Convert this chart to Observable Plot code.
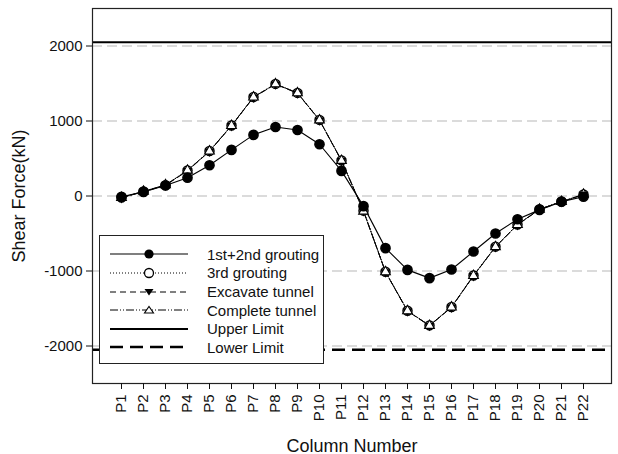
<!DOCTYPE html>
<html>
<head>
<meta charset="utf-8">
<script src="https://cdn.jsdelivr.net/npm/d3@7"></script>
<script src="https://cdn.jsdelivr.net/npm/@observablehq/plot@0.6"></script>
<style>
  body { margin: 0; background: #fff; font-family: "Liberation Sans", Arial, sans-serif; }
  #wrap { position: relative; width: 618px; height: 454px; }
  #legend { position: absolute; left: 99px; top: 235px; width: 223px; height: 127px;
    border: 1px solid #222; background: #fff; box-sizing: content-box; }
  .row { position: absolute; left: 0; height: 18px; display: flex; align-items: center; }
  .row svg { display: block; }
  .row span { font-size: 15px; color: #111; margin-left: 9px; }
</style>
</head>
<body>
<div id="wrap"></div>
<script>
const columns = ["P1","P2","P3","P4","P5","P6","P7","P8","P9","P10","P11","P12","P13","P14","P15","P16","P17","P18","P19","P20","P21","P22"];
const grout12  = [-10, 55, 140, 244, 410, 615, 815, 920, 880, 690, 335, -135, -695, -985, -1095, -980, -740, -500, -310, -185, -75, -10];
const grout3   = [-20, 60, 145, 340, 600, 940, 1320, 1495, 1375, 1015, 475, -195, -1010, -1530, -1725, -1480, -1060, -675, -380, -175, -75, 20];
const excavate = [-25, 58, 142, 335, 595, 935, 1315, 1490, 1370, 1010, 470, -200, -1015, -1535, -1730, -1485, -1065, -680, -385, -180, -78, 18];
const complete = [-22, 62, 148, 342, 598, 938, 1318, 1493, 1373, 1012, 472, -205, -1012, -1532, -1728, -1482, -1062, -678, -382, -178, -76, 22];
const upperLimit = 2050;
const lowerLimit = -2050;
const yTicks = [-2000, -1000, 0, 1000, 2000];
const seriesNames = ["1st+2nd grouting", "3rd grouting", "Excavate tunnel", "Complete tunnel", "Upper Limit", "Lower Limit"];

const toRows = vals => columns.map((c, i) => ({col: c, v: vals[i]}));
const d1 = toRows(grout12), d2 = toRows(grout3), d3 = toRows(excavate), d4 = toRows(complete);

const chart = Plot.plot({
  width: 618,
  height: 454,
  marginLeft: 92,
  marginRight: 7,
  marginTop: 8,
  marginBottom: 71,
  style: {fontFamily: "'Liberation Sans', Arial, sans-serif", fontSize: "15px", color: "#111", background: "#fff"},
  x: {type: "point", domain: columns, padding: 1, label: null},
  y: {domain: [-2500, 2500], label: null},
  marks: [
    Plot.ruleY(yTicks, {stroke: "#cfcfcf", strokeWidth: 1.5, strokeDasharray: "10,5"}),
    Plot.ruleY([upperLimit], {stroke: "#000", strokeWidth: 2}),
    Plot.ruleY([lowerLimit], {stroke: "#000", strokeWidth: 2.4, strokeDasharray: "13,7"}),
    Plot.line(d4, {x: "col", y: "v", stroke: "#000", strokeWidth: 1, strokeDasharray: "8,2,1,2,1,2"}),
    Plot.line(d3, {x: "col", y: "v", stroke: "#000", strokeWidth: 1, strokeDasharray: "6,4"}),
    Plot.line(d2, {x: "col", y: "v", stroke: "#000", strokeWidth: 1, strokeDasharray: "1,2"}),
    Plot.line(d1, {x: "col", y: "v", stroke: "#000", strokeWidth: 1.1}),
    Plot.dot(d2, {x: "col", y: "v", r: 4.5, fill: "#fff", stroke: "#000", strokeWidth: 1.5}),
    Plot.dot(d3, {x: "col", y: "v", symbol: "triangle", rotate: 180, r: 3.6, fill: "#000", stroke: "none"}),
    Plot.dot(d4, {x: "col", y: "v", symbol: "triangle", r: 3.6, fill: "#fff", stroke: "#000", strokeWidth: 1.1}),
    Plot.dot(d1, {x: "col", y: "v", r: 4.6, fill: "#000", stroke: "#000"}),
    Plot.frame({stroke: "#222", strokeWidth: 1.2}),
    Plot.axisY({ticks: yTicks, tickFormat: d => String(d), tickSize: 6, tickPadding: 4, fontSize: 15, label: null}),
    Plot.axisY({ticks: [], label: "Shear Force(kN)", labelAnchor: "center", labelArrow: "none", labelOffset: 80, fontSize: 18}),
    Plot.axisX({tickSize: 6, tickRotate: -90, tickPadding: 5, fontSize: 15, label: null}),
    Plot.axisX({ticks: [], label: "Column Number", labelAnchor: "center", labelArrow: "none", labelOffset: 68, fontSize: 18})
  ]
});
const wrap = document.getElementById("wrap");
wrap.appendChild(chart);

// legend overlay
const legend = document.createElement("div");
legend.id = "legend";
const styles = [
  {dash: null, w: 1.1, marker: "filledCircle"},
  {dash: "1,2", w: 1, marker: "openCircle"},
  {dash: "6,4", w: 1, marker: "downTri"},
  {dash: "8,2,1,2,1,2", w: 1, marker: "upTri"},
  {dash: null, w: 2, marker: null},
  {dash: "13,7", w: 2.4, marker: null}
];
const rowTops = [9, 27.5, 46.5, 65, 83.5, 102];
seriesNames.forEach((name, i) => {
  const s = styles[i];
  const row = document.createElement("div");
  row.className = "row";
  row.style.top = rowTops[i] + "px";
  let m = "";
  if (s.marker === "filledCircle") m = `<circle cx="49" cy="9" r="4.6" fill="#000"/>`;
  if (s.marker === "openCircle") m = `<circle cx="49" cy="9" r="4.5" fill="#fff" stroke="#000" stroke-width="1.3"/>`;
  if (s.marker === "downTri") m = `<path d="M44.5,6 L53.5,6 L49,12.5 Z" fill="#000"/>`;
  if (s.marker === "upTri") m = `<path d="M44.5,12 L53.5,12 L49,5.5 Z" fill="#fff" stroke="#000" stroke-width="1.1"/>`;
  row.innerHTML = `<svg width="98" height="18"><line x1="10" x2="88" y1="9" y2="9" stroke="#000" stroke-width="${s.w}" ${s.dash ? `stroke-dasharray="${s.dash}"` : ""}/>${m}</svg><span>${name}</span>`;
  legend.appendChild(row);
});
wrap.appendChild(legend);
</script>
</body>
</html>
